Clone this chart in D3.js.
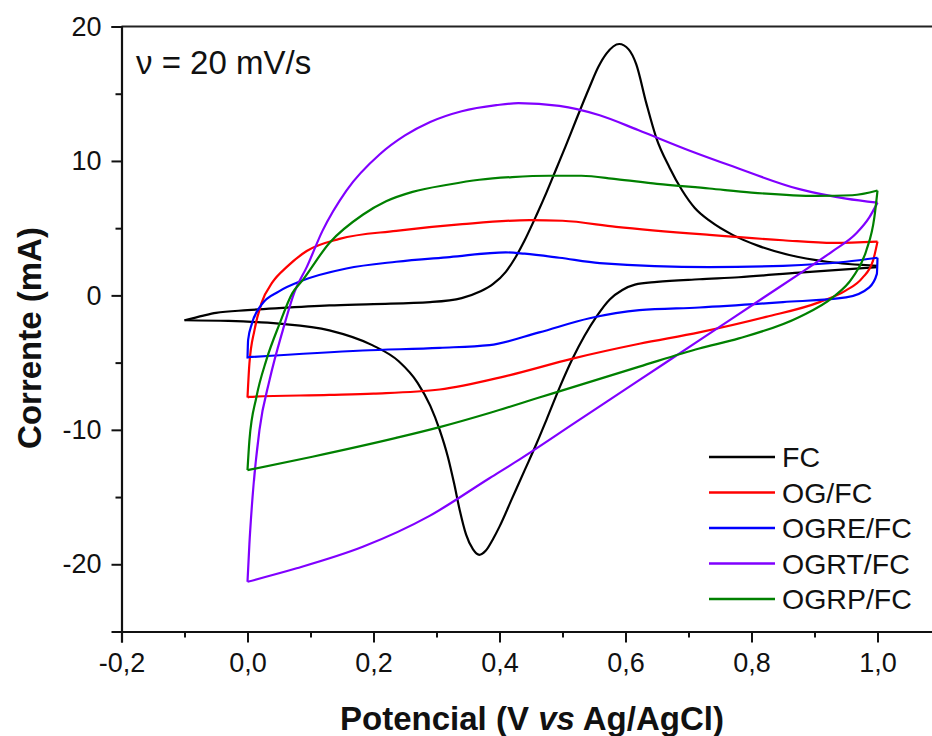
<!DOCTYPE html>
<html><head><meta charset="utf-8">
<script src="https://cdn.jsdelivr.net/npm/d3@7"></script>
<style>
body{margin:0;background:#fff}
text{font-family:"Liberation Sans",Arial,Helvetica,sans-serif;fill:#111}
</style>
</head><body>
<svg id="c" width="932" height="736"></svg>
<script>
// ---- data ----
const seriesNames = ["FC", "OG/FC", "OGRE/FC", "OGRT/FC", "OGRP/FC"];
const seriesColors = ["#000000", "#ff0000", "#0000ff", "#8000ff", "#008000"];

const fcForward = [[-0.1,-1.85],[-0.07,-1.5],[-0.05,-1.3],[0.0,-1.1],[0.05,-0.95],[0.13,-0.75],[0.2,-0.65],[0.29,-0.5],[0.34,-0.2],[0.37,0.3],[0.39,0.85],[0.41,1.75],[0.425,2.8],[0.44,4.1],[0.459,6.0],[0.475,7.7],[0.49,9.4],[0.505,11.1],[0.522,13.1],[0.543,15.5],[0.557,17.0],[0.57,18.0],[0.59,18.7],[0.605,18.3],[0.617,17.2],[0.633,14.3],[0.649,11.7],[0.67,9.5],[0.69,7.8],[0.71,6.5],[0.735,5.5],[0.77,4.5],[0.81,3.7],[0.86,3.0],[0.92,2.5],[1.0,2.2]];
const fcReverse = [[1.0,2.1],[0.876,1.7],[0.78,1.35],[0.717,1.2],[0.65,1.0],[0.615,0.8],[0.595,0.4],[0.575,-0.3],[0.555,-1.5],[0.535,-3.0],[0.516,-4.7],[0.495,-6.9],[0.475,-9.2],[0.459,-11.0],[0.44,-13.0],[0.42,-15.1],[0.4,-17.2],[0.39,-18.1],[0.378,-19.0],[0.368,-19.3],[0.358,-18.9],[0.347,-17.8],[0.337,-16.0],[0.328,-14.0],[0.318,-12.0],[0.305,-10.0],[0.29,-8.2],[0.27,-6.5],[0.24,-4.9],[0.198,-3.7],[0.13,-2.6],[0.05,-2.1],[-0.03,-1.9],[-0.1,-1.85]];

const ogForward = [[0,-7.6],[0.003,-5.1],[0.011,-2.6],[0.022,-0.6],[0.04,1.0],[0.062,2.1],[0.094,3.3],[0.146,4.2],[0.236,4.8],[0.341,5.3],[0.448,5.6],[0.5,5.55],[0.585,5.1],[0.733,4.5],[0.85,4.1],[0.93,3.9],[1.0,4.0]];
const ogReverse = [[1.0,4.0],[0.993,2.6],[0.976,1.3],[0.95,0.37],[0.908,-0.5],[0.823,-1.6],[0.717,-2.75],[0.622,-3.6],[0.516,-4.7],[0.41,-6.0],[0.305,-7.0],[0.2,-7.3],[0.13,-7.4],[0.003,-7.55],[0,-7.6]];

const ogreForward = [[0,-4.7],[0.001,-3.3],[0.007,-2.1],[0.022,-0.7],[0.05,0.3],[0.087,1.1],[0.157,2.0],[0.236,2.5],[0.321,2.85],[0.41,3.2],[0.44,3.1],[0.495,2.8],[0.559,2.4],[0.733,2.1],[0.85,2.2],[0.95,2.5],[1.0,2.8]];
const ogreReverse = [[1.0,2.8],[0.999,1.6],[0.987,0.6],[0.95,-0.15],[0.85,-0.5],[0.717,-0.9],[0.622,-1.1],[0.543,-1.7],[0.463,-2.75],[0.384,-3.7],[0.305,-3.9],[0.183,-4.1],[0,-4.6]];

const ogrtForward = [[0,-21.3],[0.003,-18.5],[0.008,-15.0],[0.019,-10.0],[0.035,-6.3],[0.056,-2.6],[0.075,0.3],[0.094,2.1],[0.119,4.8],[0.157,7.8],[0.21,10.5],[0.25,11.9],[0.29,12.9],[0.34,13.7],[0.395,14.15],[0.43,14.3],[0.495,14.1],[0.559,13.4],[0.62,12.3],[0.7,10.8],[0.77,9.6],[0.876,7.9],[0.95,7.2],[1.0,6.9]];
const ogrtReverse = [[1.0,6.9],[0.987,5.8],[0.966,4.6],[0.929,3.3],[0.876,1.6],[0.82,-0.14],[0.717,-3.35],[0.62,-6.36],[0.52,-9.47],[0.432,-12.2],[0.384,-13.6],[0.289,-16.4],[0.183,-18.7],[0.078,-20.3],[0,-21.3]];

const ogrpForward = [[0,-13.0],[0.003,-10.8],[0.014,-7.6],[0.03,-4.8],[0.051,-2.1],[0.071,0.15],[0.087,1.1],[0.13,3.9],[0.183,6.0],[0.22,7.0],[0.262,7.7],[0.32,8.25],[0.368,8.6],[0.42,8.8],[0.479,8.9],[0.53,8.9],[0.585,8.65],[0.65,8.3],[0.733,7.95],[0.8,7.65],[0.903,7.4],[0.96,7.45],[1.0,7.8]];
const ogrpReverse = [[1.0,7.8],[0.995,5.8],[0.982,3.3],[0.96,1.3],[0.929,-0.15],[0.876,-1.6],[0.78,-3.2],[0.717,-3.95],[0.622,-5.3],[0.463,-7.6],[0.384,-8.75],[0.305,-9.8],[0.236,-10.6],[0.103,-12.0],[0,-13.0]];

const xTicks = [-0.2, 0.0, 0.2, 0.4, 0.6, 0.8, 1.0];
const xTickLabels = ["-0,2", "0,0", "0,2", "0,4", "0,6", "0,8", "1,0"];
const xMinorTicks = [-0.1, 0.1, 0.3, 0.5, 0.7, 0.9];
const yTicks = [-20, -10, 0, 10, 20];
const yTickLabels = ["-20", "-10", "0", "10", "20"];
const yMinorTicks = [-15, -5, 5, 15];

const yTitle = "Corrente (mA)";
const annotation = "ν = 20 mV/s";

// ---- chart ----
const svg = d3.select("#c");
const x = d3.scaleLinear().domain([-0.2, 1.1]).range([121.5, 940.5]);
const y = d3.scaleLinear().domain([-25, 20]).range([631.5, 26.5]);

const branches = [
  [fcForward, fcReverse],
  [ogForward, ogReverse],
  [ogreForward, ogreReverse],
  [ogrtForward, ogrtReverse],
  [ogrpForward, ogrpReverse]
];

// top frame line
svg.append("line").attr("x1", x(-0.2)).attr("x2", x(1.1))
  .attr("y1", y(20)).attr("y2", y(20))
  .attr("stroke", "#222").attr("stroke-width", 2);

const line = d3.line().x(d => x(d[0])).y(d => y(d[1])).curve(d3.curveMonotoneX);
const g = svg.append("g");
branches.forEach((br, i) => {
  br.forEach(pts => {
    g.append("path").attr("d", line(pts)).attr("fill", "none")
      .attr("stroke", seriesColors[i]).attr("stroke-width", 2.2)
      .attr("stroke-linejoin", "round");
  });
});

// axes
const xAxis = d3.axisBottom(x).tickValues(xTicks).tickSize(11).tickPadding(10)
  .tickFormat((d, i) => xTickLabels[i]);
const xAxisMinor = d3.axisBottom(x).tickValues(xMinorTicks).tickSize(6).tickFormat("");
const yAxis = d3.axisLeft(y).tickValues(yTicks).tickSize(10).tickPadding(10)
  .tickFormat((d, i) => yTickLabels[i]);
const yAxisMinor = d3.axisLeft(y).tickValues(yMinorTicks).tickSize(6).tickFormat("");

function styleAxis(sel) {
  sel.select(".domain").attr("stroke", "#111").attr("stroke-width", 2.2);
  sel.selectAll(".tick line").attr("stroke", "#111").attr("stroke-width", 2);
  sel.selectAll("text").attr("font-size", 27).attr("fill", "#111")
    .attr("font-family", '"Liberation Sans",Arial,sans-serif');
}
svg.append("g").attr("transform", `translate(0,${y(-25)})`).call(xAxis).call(styleAxis);
svg.append("g").attr("transform", `translate(0,${y(-25)})`).call(xAxisMinor).call(styleAxis)
  .select(".domain").remove();
svg.append("g").attr("transform", `translate(${x(-0.2)},0)`).call(yAxis).call(styleAxis);
svg.append("g").attr("transform", `translate(${x(-0.2)},0)`).call(yAxisMinor).call(styleAxis)
  .select(".domain").remove();

// axis titles
const xt = svg.append("text").attr("x", 532).attr("y", 730).attr("text-anchor", "middle")
  .attr("font-size", 33).attr("font-weight", "bold");
xt.append("tspan").text("Potencial (V ");
xt.append("tspan").attr("font-style", "italic").text("vs");
xt.append("tspan").text(" Ag/AgCl)");

svg.append("text").attr("transform", "translate(41,338) rotate(-90)")
  .attr("text-anchor", "middle").attr("font-size", 33).attr("font-weight", "bold").text(yTitle);

// annotation
svg.append("text").attr("x", 136).attr("y", 74).attr("font-size", 33).text(annotation);

// legend
const legend = svg.append("g");
seriesNames.forEach((name, i) => {
  const ly = 457 + i * 35.5;
  legend.append("line").attr("x1", 709).attr("x2", 775).attr("y1", ly).attr("y2", ly)
    .attr("stroke", seriesColors[i]).attr("stroke-width", 2.5);
  legend.append("text").attr("x", 782).attr("y", ly + 10).attr("font-size", 28.5).text(name);
});
</script>
</body></html>
